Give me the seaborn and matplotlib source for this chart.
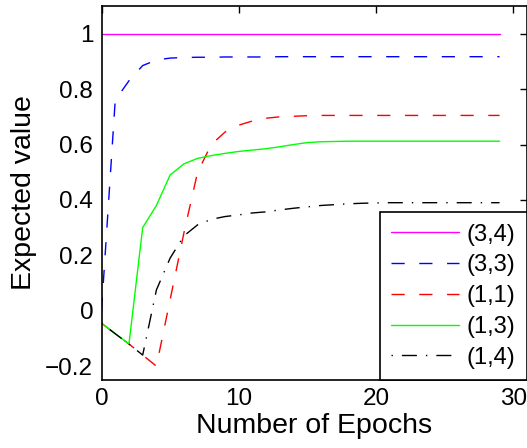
import numpy as np
import pandas as pd
import matplotlib
matplotlib.use("Agg")
import matplotlib.pyplot as plt
import seaborn as sns
from matplotlib.ticker import FuncFormatter

sns.set_theme(style="white")
plt.rcParams['font.family'] = ['Liberation Sans', 'DejaVu Sans']
plt.rcParams['lines.scale_dashes'] = False
plt.rcParams['text.color'] = 'black'
plt.rcParams['axes.labelcolor'] = 'black'
plt.rcParams['xtick.color'] = 'black'
plt.rcParams['ytick.color'] = 'black'

epochs = list(range(30))
labels = ["(3,4)", "(3,3)", "(1,1)", "(1,3)", "(1,4)"]
s34 = [1.0] * 30
s33 = [0.0, 0.76, 0.83, 0.885, 0.905, 0.912, 0.914, 0.915, 0.915, 0.916,
       0.916, 0.916, 0.916, 0.917, 0.917, 0.917, 0.917, 0.917, 0.917, 0.917,
       0.917, 0.917, 0.917, 0.917, 0.917, 0.917, 0.917, 0.917, 0.917, 0.917]
s11 = [-0.045, -0.083, -0.12, -0.16, -0.2, 0.04, 0.28, 0.5, 0.6, 0.645,
       0.67, 0.685, 0.695, 0.70, 0.702, 0.704, 0.705, 0.705, 0.705, 0.705,
       0.705, 0.705, 0.705, 0.705, 0.705, 0.705, 0.705, 0.705, 0.705, 0.705]
s13 = [-0.045, -0.083, -0.12, 0.30, 0.38, 0.49, 0.53, 0.55, 0.56, 0.568,
       0.575, 0.58, 0.585, 0.592, 0.60, 0.607, 0.61, 0.611, 0.612, 0.612,
       0.612, 0.612, 0.612, 0.612, 0.612, 0.612, 0.612, 0.612, 0.612, 0.612]
s14 = [-0.045, -0.083, -0.12, -0.16, 0.075, 0.19, 0.27, 0.31, 0.33, 0.34,
       0.346, 0.353, 0.357, 0.364, 0.37, 0.375, 0.38, 0.383, 0.386, 0.388,
       0.389, 0.39, 0.39, 0.39, 0.39, 0.39, 0.39, 0.39, 0.39, 0.39]
series = [s34, s33, s11, s13, s14]
colors = ["#ff00ff", "#0000ff", "#ff0000", "#00ff00", "#000000"]
styles = ["-", (0, (9.5, 10.5)), (0, (9.5, 10.5)), "-", (0, (1, 6.5, 10.8, 6.5))]

fig = plt.figure(figsize=(5.27, 4.48), dpi=100)
ax = fig.add_axes([101.5 / 527, 68 / 448, (527 - 101.5) / 527, (380 - 6) / 448])

for lab, vals, c, ls in zip(labels, series, colors, styles):
    df = pd.DataFrame({"Epoch": epochs, "Value": vals})
    sns.lineplot(data=df, x="Epoch", y="Value", ax=ax, color=c, linestyle=ls,
                 linewidth=1.0, label=lab)

ax.set_xlim(0, 31)
ax.set_ylim(-0.25, 1.1)
ax.set_xticks([0, 10, 20, 30])
ax.set_yticks([-0.2, 0, 0.2, 0.4, 0.6, 0.8, 1.0])

def fmt(v, pos):
    s = f"{v:.1f}"
    if abs(v) < 1e-9:
        return "0"
    if abs(v - 1) < 1e-9:
        return "1"
    return s.replace("-", "\u2212")

ax.yaxis.set_major_formatter(FuncFormatter(fmt))
ax.tick_params(direction="in", length=5, width=1, colors="black", labelsize=17.5,
               top=True, right=True, pad=6)
for sp in ax.spines.values():
    sp.set_color("black")
    sp.set_linewidth(1.2)
ax.set_xlabel("Number of Epochs", fontsize=20.5, labelpad=2, color="black")
ax.set_ylabel("Expected value", fontsize=20.5, labelpad=6, color="black")

leg = ax.legend(loc="lower right", borderaxespad=0, fontsize=17, frameon=True,
                fancybox=False, handlelength=2.85, handletextpad=0.35,
                labelspacing=0.37, borderpad=0.48)
for t in leg.get_texts():
    t.set_color("black")
leg.get_frame().set_edgecolor("black")
leg.get_frame().set_linewidth(1.2)
leg.get_frame().set_facecolor("white")
leg.get_frame().set_alpha(1)

fig.savefig("out.png", dpi=100)
